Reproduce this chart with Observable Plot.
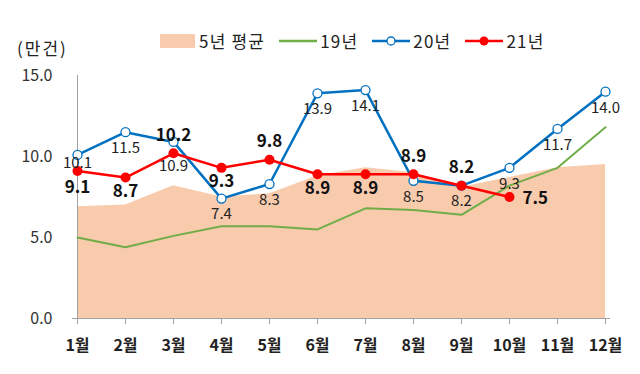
<!DOCTYPE html>
<html>
<head>
<meta charset="utf-8">
<script src="https://cdn.jsdelivr.net/npm/d3@7"></script>
<script src="https://cdn.jsdelivr.net/npm/@observablehq/plot@0.6"></script>
<style>
  body { margin: 0; background: #fff; font-family: "Noto Sans CJK KR", sans-serif; }
  #wrap { position: relative; width: 640px; height: 374px; }
  #legend { position: absolute; left: 160px; top: 28px; display: flex; align-items: center; font-size: 17px; letter-spacing: 1.2px; color: #222; }
  #legend .item { display: flex; align-items: center; margin-right: 14px; }
  #unit { position: absolute; left: 17px; top: 35px; font-size: 17px; letter-spacing: 2px; color: #222; }
</style>
</head>
<body>
<div id="wrap">
  <div id="unit">(만건)</div>
  <div id="legend"></div>
</div>
<script>
const months = ["1월","2월","3월","4월","5월","6월","7월","8월","9월","10월","11월","12월"];
const avg5 = [6.9, 7.0, 8.2, 7.5, 7.7, 8.8, 9.3, 9.0, 8.1, 8.7, 9.3, 9.5];
const y19 = [5.0, 4.4, 5.1, 5.7, 5.7, 5.5, 6.8, 6.7, 6.4, 8.2, 9.3, 11.8];
const y20 = [10.1, 11.5, 10.9, 7.4, 8.3, 13.9, 14.1, 8.5, 8.2, 9.3, 11.7, 14.0];
const y21 = [9.1, 8.7, 10.2, 9.3, 9.8, 8.9, 8.9, 8.9, 8.2, 7.5];
const seriesNames = ["5년 평균", "19년", "20년", "21년"];
const colors = ["#F8CBAD", "#70AD47", "#0070C0", "#FF0000"];

const dAvg = months.map((m, i) => ({month: m, v: avg5[i]}));
const d19 = months.map((m, i) => ({month: m, v: y19[i]}));
const d20 = months.map((m, i) => ({month: m, v: y20[i], i}));
const d21 = y21.map((v, i) => ({month: months[i], v, i}));

// label placement for 21년: above for 3,5,8,9월; right for last
const above21 = new Set([2, 4, 7, 8]);
const lastIdx = y21.length - 1;

const font = "Noto Sans CJK KR";
const lbl20 = {x: "month", y: "v", text: d => d.v.toFixed(1), fontSize: 15, fill: "#222"};
const lbl21 = {x: "month", y: "v", text: d => d.v.toFixed(1), fontSize: 17, fontWeight: "bold", fill: "#111"};

const chart = Plot.plot({
  width: 640,
  height: 374,
  marginLeft: 72,
  marginRight: 30,
  marginTop: 75,
  marginBottom: 56,
  style: {fontFamily: font, background: "transparent", overflow: "visible"},
  x: {type: "point", domain: months, padding: 0, label: null},
  y: {domain: [0, 15], label: null},
  marks: [
    Plot.areaY(dAvg, {x: "month", y: "v", fill: colors[0]}),
    Plot.ruleX([months[0]], {y1: 0, y2: 15, stroke: "#a0a0a0", strokeWidth: 1}),
    Plot.ruleY([0], {stroke: "#a0a0a0", strokeWidth: 1}),
    Plot.axisY({ticks: [0, 5, 10, 15], tickFormat: d => d.toFixed(1), tickSize: 0, tickPadding: 20, fontSize: 16, fill: "#333", label: null}),
    Plot.axisX({tickSize: 6, tickPadding: 15, fontSize: 16, fontWeight: "bold", fill: "#222", stroke: "#a0a0a0", label: null}),
    Plot.lineY(d19, {x: "month", y: "v", stroke: colors[1], strokeWidth: 2}),
    Plot.lineY(d20, {x: "month", y: "v", stroke: colors[2], strokeWidth: 2.5}),
    Plot.dot(d20, {x: "month", y: "v", r: 4.5, fill: "white", stroke: colors[2], strokeWidth: 1.3}),
    Plot.lineY(d21, {x: "month", y: "v", stroke: colors[3], strokeWidth: 2.5}),
    Plot.dot(d21, {x: "month", y: "v", r: 5, fill: colors[3]}),
    Plot.text(d20, {...lbl20, filter: d => d.i !== 0 && d.i !== 2, dy: 16}),
    Plot.text(d20, {...lbl20, filter: d => d.i === 0, dy: 8}),
    Plot.text(d20, {...lbl20, filter: d => d.i === 2, dy: 24}),
    Plot.text(d21, {...lbl21, filter: d => !above21.has(d.i) && d.i !== lastIdx && d.i !== 0, dy: 14}),
    Plot.text(d21, {...lbl21, filter: d => d.i === 0, dy: 16}),
    Plot.text(d21, {...lbl21, filter: d => above21.has(d.i), dy: -18}),
    Plot.text(d21, {...lbl21, filter: d => d.i === lastIdx, dx: 13, dy: 2, textAnchor: "start"})
  ]
});
document.getElementById("wrap").prepend(chart);
chart.style.position = "absolute";
chart.style.left = "0";
chart.style.top = "0";

// legend
const legend = document.getElementById("legend");
seriesNames.forEach((name, k) => {
  const item = document.createElement("div");
  item.className = "item";
  let sw;
  if (k === 0) {
    sw = `<svg width="36" height="16"><rect x="0" y="1" width="35" height="14" fill="${colors[0]}"/></svg>`;
  } else {
    const marker = k === 2 ? `<circle cx="19" cy="8" r="4" fill="white" stroke="${colors[2]}" stroke-width="1.3"/>`
                 : k === 3 ? `<circle cx="19" cy="8" r="4.5" fill="${colors[3]}"/>` : "";
    sw = `<svg width="38" height="16"><line x1="0" x2="38" y1="8" y2="8" stroke="${colors[k]}" stroke-width="2.5"/>${marker}</svg>`;
  }
  item.innerHTML = sw + `<span style="margin-left:3px">${name}</span>`;
  legend.appendChild(item);
});
document.getElementById("wrap").appendChild(legend);
document.getElementById("wrap").appendChild(document.getElementById("unit"));
</script>
</body>
</html>
